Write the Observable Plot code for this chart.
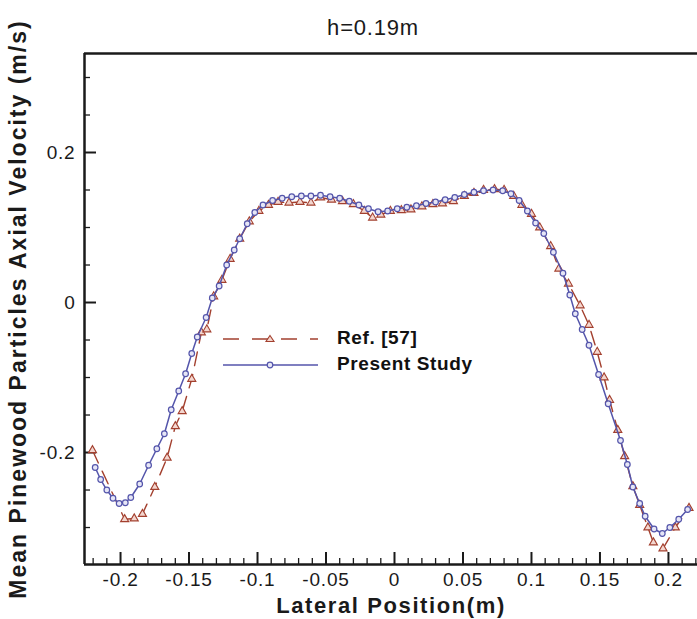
<!DOCTYPE html>
<html>
<head>
<meta charset="utf-8">
<script src="https://cdn.jsdelivr.net/npm/d3@7"></script>
<script src="https://cdn.jsdelivr.net/npm/@observablehq/plot@0.6"></script>
<style>
  html, body { margin: 0; padding: 0; background: #fff; overflow: hidden; }
  #wrap { position: relative; width: 697px; height: 619px; }
  #legend { position: absolute; left: 0; top: 0; width: 697px; height: 619px; pointer-events: none; }
  .lg-text { position: absolute; font-family: "Liberation Sans", Arial, sans-serif; font-weight: bold; font-size: 19px; letter-spacing: 0.6px; color: #111; white-space: nowrap; }
</style>
</head>
<body>
<div id="wrap"></div>
<script>
// ---- data ----
const titleText = "h=0.19m";
const xLabel = "Lateral Position(m)";
const yLabel = "Mean Pinewood Particles Axial Velocity (m/s)";
const seriesNames = ["Ref. [57]", "Present Study"];

const presentX = [-0.2185,-0.2145,-0.2100,-0.2055,-0.2010,-0.1965,-0.1925,-0.1860,-0.1795,-0.1735,-0.1680,-0.1630,-0.1575,-0.1525,-0.1480,-0.1440,-0.1375,-0.1330,-0.1280,-0.1225,-0.1170,-0.1130,-0.1075,-0.1020,-0.0960,-0.0890,-0.0820,-0.0750,-0.0680,-0.0610,-0.0540,-0.0470,-0.0400,-0.0330,-0.0260,-0.0190,-0.0120,-0.0050,0.0020,0.0090,0.0160,0.0230,0.0300,0.0370,0.0440,0.0510,0.0580,0.0650,0.0720,0.0790,0.0850,0.0910,0.0970,0.1030,0.1090,0.1160,0.1230,0.1280,0.1320,0.1370,0.1420,0.1490,0.1560,0.1650,0.1700,0.1740,0.1790,0.1830,0.1895,0.1955,0.2010,0.2075,0.2140];
const presentY = [-0.220,-0.236,-0.250,-0.261,-0.268,-0.267,-0.260,-0.242,-0.217,-0.195,-0.175,-0.143,-0.118,-0.095,-0.068,-0.046,-0.020,0.006,0.022,0.050,0.070,0.085,0.105,0.120,0.130,0.136,0.139,0.141,0.142,0.142,0.143,0.141,0.139,0.135,0.130,0.125,0.121,0.122,0.125,0.127,0.129,0.132,0.134,0.137,0.140,0.144,0.147,0.149,0.150,0.149,0.145,0.136,0.122,0.106,0.092,0.067,0.039,0.010,-0.015,-0.036,-0.057,-0.096,-0.135,-0.184,-0.216,-0.246,-0.268,-0.285,-0.302,-0.308,-0.300,-0.289,-0.276];

const refX = [-0.2205,-0.1970,-0.1900,-0.1840,-0.1750,-0.1660,-0.1600,-0.1550,-0.1480,-0.1410,-0.1370,-0.1320,-0.1260,-0.1200,-0.1130,-0.1060,-0.0990,-0.0920,-0.0850,-0.0770,-0.0690,-0.0610,-0.0540,-0.0460,-0.0380,-0.0300,-0.0220,-0.0160,-0.0100,-0.0030,0.0050,0.0120,0.0200,0.0280,0.0350,0.0430,0.0510,0.0580,0.0650,0.0730,0.0800,0.0870,0.0930,0.1000,0.1060,0.1140,0.1200,0.1270,0.1355,0.1420,0.1480,0.1530,0.1570,0.1630,0.1680,0.1740,0.1790,0.1850,0.1890,0.1960,0.2050,0.2150];
const refY = [-0.197,-0.289,-0.288,-0.282,-0.246,-0.207,-0.165,-0.145,-0.102,-0.040,-0.036,0.008,0.030,0.058,0.085,0.108,0.122,0.130,0.134,0.133,0.134,0.133,0.140,0.137,0.135,0.131,0.122,0.113,0.117,0.122,0.123,0.124,0.128,0.131,0.132,0.135,0.142,0.146,0.150,0.151,0.150,0.142,0.130,0.118,0.100,0.075,0.045,0.025,-0.004,-0.030,-0.066,-0.100,-0.130,-0.170,-0.205,-0.245,-0.270,-0.300,-0.320,-0.328,-0.300,-0.274];

const xMajor = [-0.2,-0.15,-0.1,-0.05,0,0.05,0.1,0.15,0.2];
const xMajorLabels = ["-0.2","-0.15","-0.1","-0.05","0","0.05","0.1","0.15","0.2"];
const yMajor = [-0.2,0,0.2];
const yMajorLabels = ["-0.2","0","0.2"];
const yMinor = [-0.3,-0.25,-0.15,-0.1,-0.05,0.05,0.1,0.15,0.25,0.3];
const xDomain = [-0.2263, 0.2212];
const yDomain = [-0.3493, 0.332];

// ---- build ----
const xMinor = d3.range(-22, 23).map(i => i / 100).filter(v => !xMajor.some(m => Math.abs(m - v) < 1e-9));
const present = presentX.map((x, i) => ({x, y: presentY[i]}));
const ref = refX.map((x, i) => ({x, y: refY[i]}));

const W = 697, H = 619;
const mT = 53, mB = 55, mL = 84, mR = 0;
const frameH = H - mT - mB, frameW = W - mL - mR;
const blue = "#5455ab", red = "#a3402f", ink = "#1a1a1a";
const font = "'Liberation Sans', Arial, sans-serif";

const chart = Plot.plot({
  width: W, height: H,
  marginTop: mT, marginBottom: mB, marginLeft: mL, marginRight: mR,
  style: {fontFamily: font, background: "#fff", color: ink},
  x: {domain: xDomain},
  y: {domain: yDomain},
  marks: [
    // ticks (inward)
    Plot.ruleX(xMinor, {x: d => d, insetTop: frameH - 6, stroke: ink, strokeWidth: 1.3}),
    Plot.ruleX(xMajor, {x: d => d, insetTop: frameH - 12, stroke: ink, strokeWidth: 2}),
    Plot.ruleY(yMinor, {y: d => d, insetRight: frameW - 6, stroke: ink, strokeWidth: 1.3}),
    Plot.ruleY(yMajor, {y: d => d, insetRight: frameW - 12, stroke: ink, strokeWidth: 2}),
    // frame (top, bottom, left)
    Plot.ruleY([yDomain[0], yDomain[1]], {y: d => d, stroke: ink, strokeWidth: 2.5}),
    Plot.ruleX([xDomain[0]], {x: d => d, stroke: ink, strokeWidth: 2.5}),
    // axes labels
    Plot.axisX({ticks: xMajor, tickSize: 0, tickPadding: 8, tickFormat: (d, i) => xMajorLabels[i], fontSize: 19, label: null}),
    Plot.axisY({ticks: yMajor, tickSize: 0, tickPadding: 9, tickFormat: (d, i) => yMajorLabels[i], fontSize: 19, label: null}),
    // series
    Plot.line(ref, {x: "x", y: "y", stroke: red, strokeWidth: 1.4, strokeDasharray: "14,9"}),
    Plot.dot(ref, {x: "x", y: "y", symbol: "triangle", r: 3, stroke: red, strokeWidth: 1.1, fill: "#f3d6cf"}),
    Plot.line(present, {x: "x", y: "y", stroke: blue, strokeWidth: 1.5}),
    Plot.dot(present, {x: "x", y: "y", r: 2.8, stroke: blue, strokeWidth: 1.2, fill: "#e6e6f6"}),
    // titles
    Plot.text([titleText], {frameAnchor: "top", lineAnchor: "middle", textAnchor: "middle", dx: -18, dy: -26, fontSize: 22, fill: ink}),
    Plot.text([xLabel], {frameAnchor: "bottom", lineAnchor: "middle", textAnchor: "middle", dx: 0, dy: 41, fontSize: 22, fontWeight: "bold", fill: ink}),
    Plot.text([yLabel], {frameAnchor: "left", lineAnchor: "middle", textAnchor: "middle", rotate: -90, dx: -66, fontSize: 23, fontWeight: "bold", fill: ink})
  ]
});

// letter spacing to match the reference's wider lettering
const spacing = new Map([[yLabel, "2.0px"], [xLabel, "1.6px"], [titleText, "0.8px"]]);
xMajorLabels.forEach(l => spacing.set(l, "0.8px"));
chart.querySelectorAll("text").forEach(t => {
  const s = spacing.get(t.textContent);
  if (s) t.setAttribute("letter-spacing", s);
});

const wrap = document.getElementById("wrap");
wrap.appendChild(chart);

// legend overlay (inside the plot area)
const lg = document.createElement("div");
lg.id = "legend";
const ns = "http://www.w3.org/2000/svg";
const ls = document.createElementNS(ns, "svg");
ls.setAttribute("width", W); ls.setAttribute("height", H);
ls.style.position = "absolute"; ls.style.left = "0"; ls.style.top = "0";
const rows = [
  {name: seriesNames[0], y: 339, color: red, dash: "16,13", kind: "tri"},
  {name: seriesNames[1], y: 365, color: blue, dash: null, kind: "circle"}
];
rows.forEach(r => {
  const ln = document.createElementNS(ns, "line");
  ln.setAttribute("x1", 223); ln.setAttribute("x2", 318);
  ln.setAttribute("y1", r.y); ln.setAttribute("y2", r.y);
  ln.setAttribute("stroke", r.color); ln.setAttribute("stroke-width", 1.5);
  if (r.dash) ln.setAttribute("stroke-dasharray", r.dash);
  ls.appendChild(ln);
  if (r.kind === "tri") {
    const p = document.createElementNS(ns, "path");
    p.setAttribute("d", `M270,${r.y - 3.5}L274,${r.y + 2.5}L266,${r.y + 2.5}Z`);
    p.setAttribute("stroke", r.color); p.setAttribute("fill", "#f3d6cf"); p.setAttribute("stroke-width", 1.1);
    ls.appendChild(p);
  } else {
    const c = document.createElementNS(ns, "circle");
    c.setAttribute("cx", 270); c.setAttribute("cy", r.y); c.setAttribute("r", 2.8);
    c.setAttribute("stroke", r.color); c.setAttribute("fill", "#e6e6f6"); c.setAttribute("stroke-width", 1.2);
    ls.appendChild(c);
  }
  const t = document.createElement("div");
  t.className = "lg-text";
  t.textContent = r.name;
  t.style.left = "337px";
  t.style.top = (r.y - 12) + "px";
  lg.appendChild(t);
});
lg.appendChild(ls);
wrap.appendChild(lg);
</script>
</body>
</html>
